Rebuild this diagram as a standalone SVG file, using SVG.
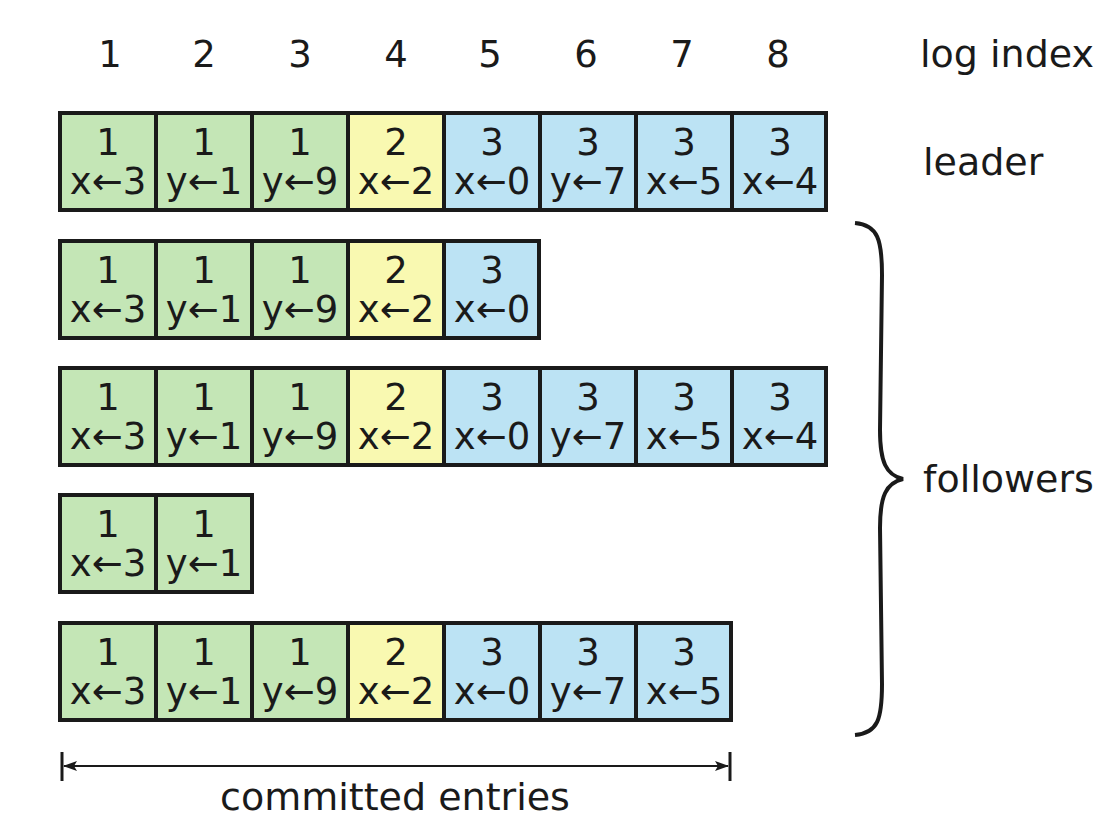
<svg xmlns="http://www.w3.org/2000/svg" width="1100" height="820" viewBox="0 0 1100 820">
<style>
.c{stroke:#1a1a1a;stroke-width:4}
.g{fill:#c4e6b6}
.y{fill:#f9f9b1}
.b{fill:#bce3f4}
text{font-family:"DejaVu Sans","Liberation Sans",sans-serif;font-size:37px;fill:#1a1a1a}
.l{font-size:38px}
.m{text-anchor:middle}
</style>
<defs>
<marker id="ah" markerWidth="14" markerHeight="10" refX="13" refY="5" orient="auto-start-reverse" markerUnits="userSpaceOnUse">
<path d="M0,0 L14,5 L0,10 L3,5 Z" fill="#1a1a1a"/>
</marker>
</defs>
<rect width="1100" height="820" fill="#fff"/>
<g id="index">
<text x="110" y="67" class="m">1</text>
<text x="204" y="67" class="m">2</text>
<text x="300" y="67" class="m">3</text>
<text x="396" y="67" class="m">4</text>
<text x="490" y="67" class="m">5</text>
<text x="586" y="67" class="m">6</text>
<text x="682" y="67" class="m">7</text>
<text x="778" y="67" class="m">8</text>
<text x="920" y="67" class="l">log index</text>
</g>
<g id="leader">
<rect class="c g" x="60" y="113" width="96" height="97"/>
<rect class="c g" x="156" y="113" width="96" height="97"/>
<rect class="c g" x="252" y="113" width="96" height="97"/>
<rect class="c y" x="348" y="113" width="96" height="97"/>
<rect class="c b" x="444" y="113" width="96" height="97"/>
<rect class="c b" x="540" y="113" width="96" height="97"/>
<rect class="c b" x="636" y="113" width="96" height="97"/>
<rect class="c b" x="732" y="113" width="94" height="97"/>
<text class="m" x="108" y="155">1</text><text class="m" x="108" y="194">x←3</text>
<text class="m" x="204" y="155">1</text><text class="m" x="204" y="194">y←1</text>
<text class="m" x="300" y="155">1</text><text class="m" x="300" y="194">y←9</text>
<text class="m" x="396" y="155">2</text><text class="m" x="396" y="194">x←2</text>
<text class="m" x="492" y="155">3</text><text class="m" x="492" y="194">x←0</text>
<text class="m" x="588" y="155">3</text><text class="m" x="588" y="194">y←7</text>
<text class="m" x="684" y="155">3</text><text class="m" x="684" y="194">x←5</text>
<text class="m" x="780" y="155">3</text><text class="m" x="780" y="194">x←4</text>
<text x="923" y="175" class="l">leader</text>
</g>
<g id="follower1">
<rect class="c g" x="60" y="241" width="96" height="97"/>
<rect class="c g" x="156" y="241" width="96" height="97"/>
<rect class="c g" x="252" y="241" width="96" height="97"/>
<rect class="c y" x="348" y="241" width="96" height="97"/>
<rect class="c b" x="444" y="241" width="95" height="97"/>
<text class="m" x="108" y="283">1</text><text class="m" x="108" y="322">x←3</text>
<text class="m" x="204" y="283">1</text><text class="m" x="204" y="322">y←1</text>
<text class="m" x="300" y="283">1</text><text class="m" x="300" y="322">y←9</text>
<text class="m" x="396" y="283">2</text><text class="m" x="396" y="322">x←2</text>
<text class="m" x="492" y="283">3</text><text class="m" x="492" y="322">x←0</text>
</g>
<g id="follower2">
<rect class="c g" x="60" y="368" width="96" height="97"/>
<rect class="c g" x="156" y="368" width="96" height="97"/>
<rect class="c g" x="252" y="368" width="96" height="97"/>
<rect class="c y" x="348" y="368" width="96" height="97"/>
<rect class="c b" x="444" y="368" width="96" height="97"/>
<rect class="c b" x="540" y="368" width="96" height="97"/>
<rect class="c b" x="636" y="368" width="96" height="97"/>
<rect class="c b" x="732" y="368" width="94" height="97"/>
<text class="m" x="108" y="410">1</text><text class="m" x="108" y="449">x←3</text>
<text class="m" x="204" y="410">1</text><text class="m" x="204" y="449">y←1</text>
<text class="m" x="300" y="410">1</text><text class="m" x="300" y="449">y←9</text>
<text class="m" x="396" y="410">2</text><text class="m" x="396" y="449">x←2</text>
<text class="m" x="492" y="410">3</text><text class="m" x="492" y="449">x←0</text>
<text class="m" x="588" y="410">3</text><text class="m" x="588" y="449">y←7</text>
<text class="m" x="684" y="410">3</text><text class="m" x="684" y="449">x←5</text>
<text class="m" x="780" y="410">3</text><text class="m" x="780" y="449">x←4</text>
</g>
<g id="follower3">
<rect class="c g" x="60" y="495" width="96" height="97"/>
<rect class="c g" x="156" y="495" width="96" height="97"/>
<text class="m" x="108" y="537">1</text><text class="m" x="108" y="576">x←3</text>
<text class="m" x="204" y="537">1</text><text class="m" x="204" y="576">y←1</text>
</g>
<g id="follower4">
<rect class="c g" x="60" y="623" width="96" height="97"/>
<rect class="c g" x="156" y="623" width="96" height="97"/>
<rect class="c g" x="252" y="623" width="96" height="97"/>
<rect class="c y" x="348" y="623" width="96" height="97"/>
<rect class="c b" x="444" y="623" width="96" height="97"/>
<rect class="c b" x="540" y="623" width="96" height="97"/>
<rect class="c b" x="636" y="623" width="95" height="97"/>
<text class="m" x="108" y="665">1</text><text class="m" x="108" y="704">x←3</text>
<text class="m" x="204" y="665">1</text><text class="m" x="204" y="704">y←1</text>
<text class="m" x="300" y="665">1</text><text class="m" x="300" y="704">y←9</text>
<text class="m" x="396" y="665">2</text><text class="m" x="396" y="704">x←2</text>
<text class="m" x="492" y="665">3</text><text class="m" x="492" y="704">x←0</text>
<text class="m" x="588" y="665">3</text><text class="m" x="588" y="704">y←7</text>
<text class="m" x="684" y="665">3</text><text class="m" x="684" y="704">x←5</text>
</g>
<g id="followers">
<path d="M855,223 C878,225 882,240 882,275 L880,430 C880,462 886,475 903,479 C886,483 880,496 880,528 L882,684 C882,719 878,733 855,735" fill="none" stroke="#1a1a1a" stroke-width="4"/>
<text x="923" y="492" class="l">followers</text>
</g>
<g id="connectors">
<line x1="62" y1="752" x2="62" y2="781" stroke="#1a1a1a" stroke-width="3"/>
<line x1="730" y1="752" x2="730" y2="781" stroke="#1a1a1a" stroke-width="3"/>
<line x1="64" y1="766" x2="728" y2="766" stroke="#1a1a1a" stroke-width="2" marker-start="url(#ah)" marker-end="url(#ah)"/>
</g>
<g id="committed">
<text class="m l" x="395" y="810">committed entries</text>
</g>
</svg>
